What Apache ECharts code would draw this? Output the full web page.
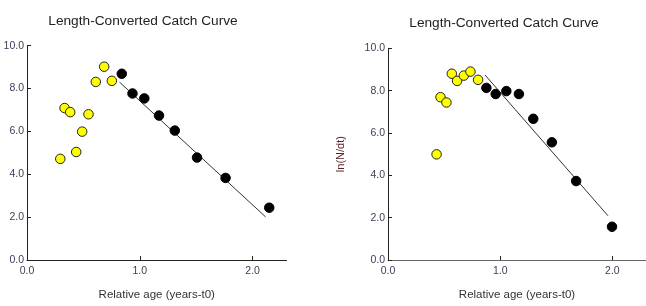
<!DOCTYPE html>
<html>
<head>
<meta charset="utf-8">
<script src="https://cdn.jsdelivr.net/npm/echarts@6/dist/echarts.min.js"></script>
<style>html,body{margin:0;padding:0;background:#fff}#c{width:646px;height:306px}</style>
</head>
<body>
<div id="c"></div>
<script>
// Left panel
const leftYellow = [[0.295,4.72],[0.333,7.09],[0.383,6.90],[0.436,5.04],[0.489,5.99],[0.545,6.80],[0.610,8.31],[0.684,9.02],[0.752,8.36]];
const leftBlack = [[0.840,8.69],[0.935,7.77],[1.040,7.54],[1.170,6.74],[1.310,6.04],[1.507,4.78],[1.760,3.83],[2.147,2.44]];
const leftLine = [[0.82,8.30],[2.115,2.01]];
// Right panel
const rightYellow = [[0.433,4.99],[0.468,7.69],[0.521,7.44],[0.569,8.80],[0.616,8.46],[0.676,8.71],[0.735,8.90],[0.803,8.51]];
const rightBlack = [[0.877,8.13],[0.960,7.84],[1.055,7.98],[1.167,7.84],[1.295,6.67],[1.461,5.56],[1.677,3.73],[1.997,1.57]];
const rightLine = [[0.865,8.74],[1.961,2.09]];
const xTickValues = [0, 1, 2];
const titleText = 'Length-Converted Catch Curve';
const xName = 'Relative age (years-t0)';
const yNameRight = 'ln(N/dt)';

const FONT = '"Liberation Sans", Arial, sans-serif';
const chart = echarts.init(document.getElementById('c'), null, {renderer: 'canvas'});

function xAxis(gi, lineColor) {
  return {
    type: 'value', gridIndex: gi, min: 0, max: 2.3, interval: 1,
    name: xName, nameLocation: 'middle', nameGap: 29,
    nameTextStyle: {color: '#333', fontSize: 11.5, fontFamily: FONT},
    axisLine: {show: true, lineStyle: {color: lineColor, width: 1}},
    axisTick: {show: true, inside: true, length: 4, customValues: xTickValues.slice(1), lineStyle: {color: '#222'}},
    axisLabel: {color: '#3a3f55', fontSize: 10.5, fontFamily: FONT, margin: 6,
      customValues: xTickValues, formatter: v => v.toFixed(1)},
    splitLine: {show: false}
  };
}
function yAxis(gi, withName) {
  const a = {
    type: 'value', gridIndex: gi, min: 0, max: 10, interval: 2,
    axisLine: {show: true, lineStyle: {color: '#222', width: 1}},
    axisTick: {show: true, inside: true, length: 4, lineStyle: {color: '#222'}},
    axisLabel: {color: '#3a3f55', fontSize: 10.5, fontFamily: FONT, margin: 3,
      formatter: v => v.toFixed(1)},
    splitLine: {show: false}
  };
  if (withName) {
    a.name = yNameRight; a.nameLocation = 'middle'; a.nameGap = 42;
    a.nameTextStyle = {color: '#5a2020', fontSize: 11, fontFamily: FONT};
  }
  return a;
}
function scatter(gi, data, color, border) {
  return {
    type: 'scatter', xAxisIndex: gi, yAxisIndex: gi, data: data,
    symbol: 'circle', symbolSize: 9.5,
    itemStyle: {color: color, borderColor: border, borderWidth: 1, opacity: 1},
    z: 3
  };
}
function line(gi, data) {
  return {
    type: 'line', xAxisIndex: gi, yAxisIndex: gi, data: data,
    symbol: 'none', lineStyle: {color: '#333', width: 1}, z: 2
  };
}

chart.setOption({
  animation: false,
  backgroundColor: '#fff',
  title: [
    {text: titleText, left: 138, top: 9, textAlign: 'center',
     textStyle: {color: '#222', fontSize: 13.7, fontWeight: 'normal', fontFamily: FONT}},
    {text: titleText, left: 499, top: 11, textAlign: 'center',
     textStyle: {color: '#222', fontSize: 13.7, fontWeight: 'normal', fontFamily: FONT}}
  ],
  grid: [
    {left: 27, top: 45.7, width: 259.5, height: 220.5},
    {left: 388, top: 48.3, width: 258.7, height: 219}
  ],
  xAxis: [xAxis(0, '#222'), xAxis(1, '#666')],
  yAxis: [yAxis(0, false), yAxis(1, true)],
  series: [
    line(0, leftLine),
    scatter(0, leftYellow, '#ffff00', '#222'),
    scatter(0, leftBlack, '#000', '#000'),
    line(1, rightLine),
    scatter(1, rightYellow, '#ffff00', '#222'),
    scatter(1, rightBlack, '#000', '#000')
  ]
});
</script>
</body>
</html>
